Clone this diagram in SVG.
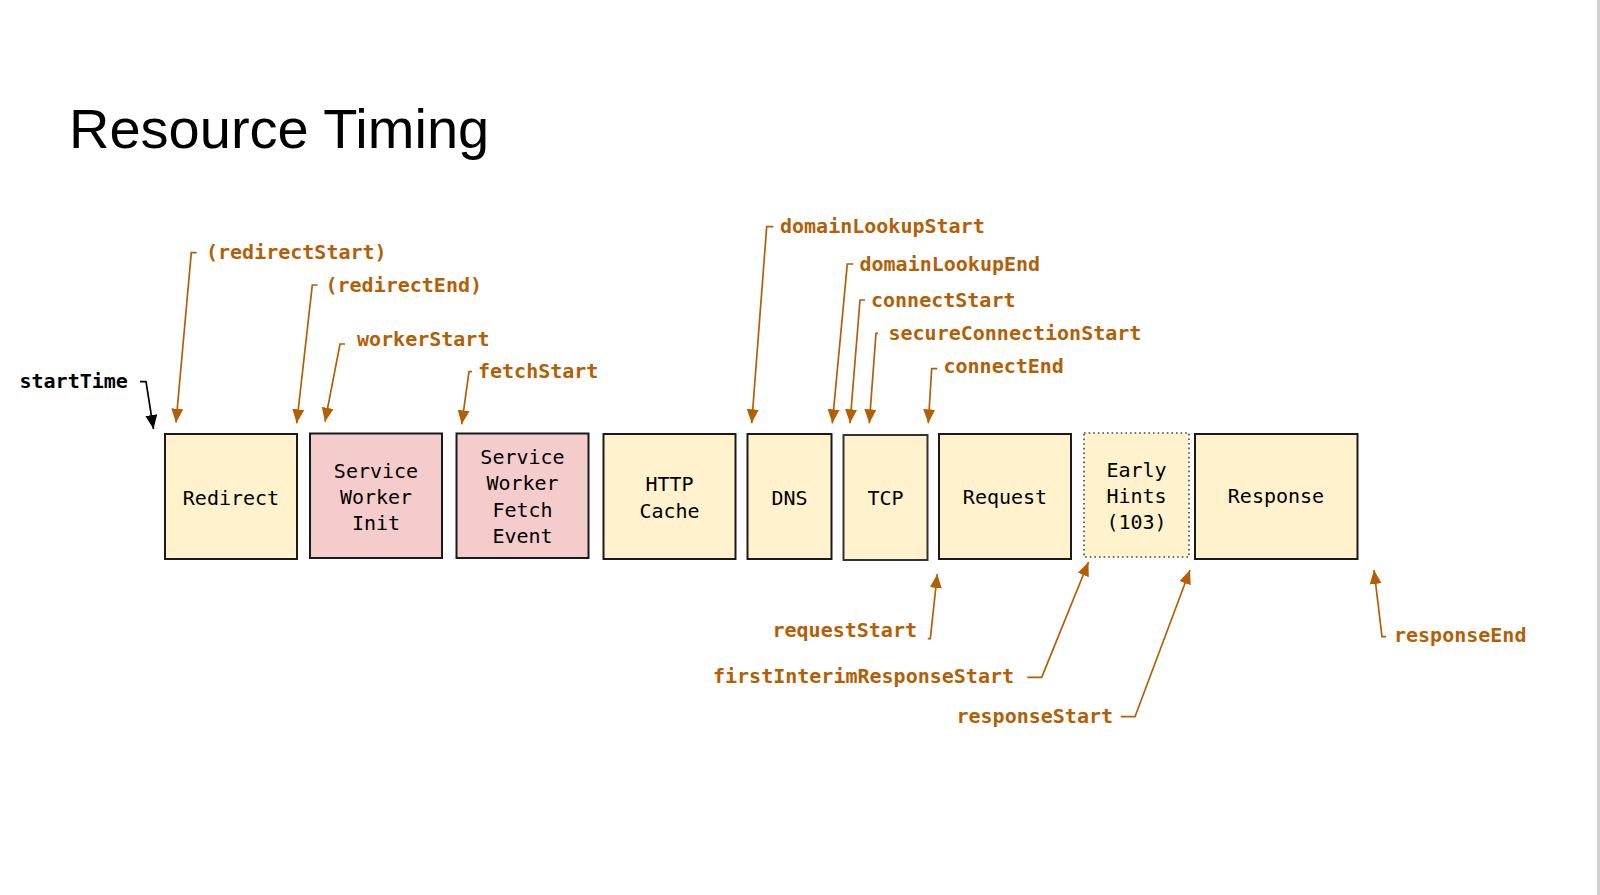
<svg xmlns="http://www.w3.org/2000/svg" width="1600" height="895" viewBox="0 0 1600 895">
<defs>
<marker id="ah" markerUnits="userSpaceOnUse" markerWidth="15" markerHeight="13" refX="14" refY="6" orient="auto">
<path d="M0,0 L14,6 L0,12 z" fill="#b45f06"/>
</marker>
<marker id="ahk" markerUnits="userSpaceOnUse" markerWidth="15" markerHeight="13" refX="14" refY="6" orient="auto">
<path d="M0,0 L14,6 L0,12 z" fill="#000"/>
</marker>
</defs>
<style>
.box{fill:#fff2cc;stroke:#1a1a1a;stroke-width:2}
.pink{fill:#f4cccc}
.dot{stroke:#444;stroke-width:1.6;stroke-dasharray:1.6 3}
.bt{font-family:"DejaVu Sans Mono","Liberation Mono",monospace;font-size:20px;fill:#000;text-anchor:middle}
.lb{font-family:"DejaVu Sans Mono","Liberation Mono",monospace;font-size:20px;font-weight:bold;fill:#b45f06}
.lk{font-family:"DejaVu Sans Mono","Liberation Mono",monospace;font-size:20px;font-weight:bold;fill:#000}
.ar{fill:none;stroke:#b45f06;stroke-width:1.7;marker-end:url(#ah)}
.ark{fill:none;stroke:#000;stroke-width:1.7;marker-end:url(#ahk)}
</style>
<rect x="0" y="0" width="1600" height="895" fill="#ffffff"/>
<rect x="1597" y="0" width="3" height="895" fill="#d0d0d0"/>
<text x="69" y="148" font-family="'Liberation Sans',Arial,sans-serif" font-size="56" fill="#000">Resource Timing</text>

<g id="redirect"><rect class="box" x="165" y="434" width="132" height="125"/><text class="bt" x="231" y="505">Redirect</text></g>
<g id="sw-init"><rect class="box pink" x="310" y="433.5" width="132" height="124.5"/><text class="bt" x="376" y="478">Service</text><text class="bt" x="376" y="504">Worker</text><text class="bt" x="376" y="530">Init</text></g>
<g id="sw-fetch"><rect class="box pink" x="456.5" y="433.5" width="132" height="124.5"/><text class="bt" x="522.5" y="464">Service</text><text class="bt" x="522.5" y="490">Worker</text><text class="bt" x="522.5" y="517">Fetch</text><text class="bt" x="522.5" y="543">Event</text></g>
<g id="http-cache"><rect class="box" x="603.5" y="434" width="132" height="125"/><text class="bt" x="669.5" y="491">HTTP</text><text class="bt" x="669.5" y="518">Cache</text></g>
<g id="dns"><rect class="box" x="747.5" y="434" width="84" height="125"/><text class="bt" x="789.5" y="505">DNS</text></g>
<g id="tcp"><rect class="box" x="843.5" y="435" width="84" height="125" style="stroke:#333"/><text class="bt" x="885.5" y="505">TCP</text></g>
<g id="request"><rect class="box" x="939" y="434" width="132" height="125"/><text class="bt" x="1005" y="504">Request</text></g>
<g id="early-hints"><rect class="box dot" x="1084" y="433" width="105" height="124"/><text class="bt" x="1136.5" y="477">Early</text><text class="bt" x="1136.5" y="503">Hints</text><text class="bt" x="1136.5" y="529">(103)</text></g>
<g id="response"><rect class="box" x="1195" y="434" width="162.5" height="125"/><text class="bt" x="1276" y="503">Response</text></g>

<g id="labels">
<text class="lk" x="19.5" y="388">startTime</text>
<text class="lb" x="206" y="259">(redirectStart)</text>
<text class="lb" x="325.5" y="292">(redirectEnd)</text>
<text class="lb" x="357" y="346">workerStart</text>
<text class="lb" x="478" y="378">fetchStart</text>
<text class="lb" x="780" y="233">domainLookupStart</text>
<text class="lb" x="859.5" y="271">domainLookupEnd</text>
<text class="lb" x="871" y="307">connectStart</text>
<text class="lb" x="888.5" y="340">secureConnectionStart</text>
<text class="lb" x="943.5" y="373">connectEnd</text>
<text class="lb" x="772.5" y="637">requestStart</text>
<text class="lb" x="713" y="683">firstInterimResponseStart</text>
<text class="lb" x="956.5" y="723">responseStart</text>
<text class="lb" x="1394" y="642">responseEnd</text>
</g>

<g id="connectors">
<polyline class="ark" points="140,381.7 146,381.7 153.5,429"/>
<polyline class="ar" points="196.7,252.7 191.3,252.7 176,422.7"/>
<polyline class="ar" points="317.7,285 312.3,285 296.7,423.3"/>
<polyline class="ar" points="345,344 340,344 325,421.7"/>
<polyline class="ar" points="472,371.7 469,371.7 461.7,424.3"/>
<polyline class="ar" points="773.3,226.7 766.7,226.7 751.7,423.3"/>
<polyline class="ar" points="853.3,264 847.3,264 832.3,423.3"/>
<polyline class="ar" points="865,300 860,300 850,423.3"/>
<polyline class="ar" points="878,333.3 876,333.3 869.3,423.3"/>
<polyline class="ar" points="937.3,368.7 931.7,368.7 928.3,423.3"/>
<polyline class="ar" points="927.7,638.7 930.3,638.7 937.3,574"/>
<polyline class="ar" points="1027.3,677.3 1041.7,677.3 1088.5,562"/>
<polyline class="ar" points="1120.7,716.7 1135,716.7 1190,570"/>
<polyline class="ar" points="1386,636.7 1382,636.7 1374,570"/>
</g>
</svg>
